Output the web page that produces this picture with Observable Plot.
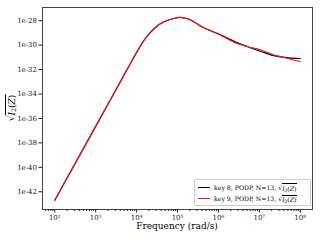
<!DOCTYPE html>
<html><head><meta charset="utf-8">
<script src="https://cdn.jsdelivr.net/npm/d3@7"></script>
<script src="https://cdn.jsdelivr.net/npm/@observablehq/plot@0.6"></script>
<style>
body{margin:0;background:#fff;}
#c{position:relative;width:320px;height:240px;font-family:"DejaVu Serif",serif;color:#000;}
#c svg{position:absolute;left:0;top:0;}
.xl{position:absolute;left:42px;width:270px;top:220px;line-height:12px;text-align:center;font-size:9px;}
.yl{position:absolute;left:11px;top:108px;font-size:9px;transform:translate(-50%,-50%) rotate(-90deg);white-space:nowrap;}
.ov{border-top:0.7px solid #000;padding-top:0.5px;}
.lg{position:absolute;left:194px;top:179px;width:117px;height:27px;border:0.8px solid #ccc;border-radius:2px;background:#fff;font-size:6.2px;box-sizing:border-box;}
.row{position:absolute;left:3px;display:flex;align-items:center;white-space:nowrap;}
.sw{display:inline-block;width:12px;height:1.3px;margin-right:4px;}
i{font-style:italic;}
sub{font-size:70%;vertical-align:-1px;line-height:0;}
</style></head><body><div id="c"></div>
<script>
const freq = [1e2, 1e3, 3.16e3, 1e4, 1.15e4, 1.51e4, 2.0e4, 2.63e4, 3.47e4, 4.57e4, 6.1e4, 8.05e4, 1.12e5, 1.51e5, 2.04e5, 2.7e5, 3.55e5, 5.66e5, 1e6, 1.6e6, 2.5e6, 5.2e6, 1.1e7, 2.3e7, 4.1e7, 6.3e7, 1e8];
const key8 = [2.0e-43, 2.24e-37, 2.35e-34, 2.5e-31, 5.6e-31, 2.4e-30, 8.1e-30, 2.1e-29, 4.7e-29, 7.9e-29, 1.15e-28, 1.51e-28, 1.86e-28, 1.66e-28, 1.2e-28, 7.1e-29, 3.9e-29, 1.8e-29, 8.1e-30, 4.0e-30, 2.0e-30, 7.4e-31, 3.0e-31, 1.35e-31, 9.8e-32, 8.6e-32, 8.1e-32];
const key9 = [2.0e-43, 2.24e-37, 2.35e-34, 2.5e-31, 5.6e-31, 2.4e-30, 8.1e-30, 2.1e-29, 4.7e-29, 7.9e-29, 1.15e-28, 1.51e-28, 1.86e-28, 1.66e-28, 1.2e-28, 7.1e-29, 3.9e-29, 1.8e-29, 8.1e-30, 3.5e-30, 1.66e-30, 7.4e-31, 4.0e-31, 1.55e-31, 9.8e-32, 6.4e-32, 4.6e-32];
const yTicks = [1e-42, 1e-40, 1e-38, 1e-36, 1e-34, 1e-32, 1e-30, 1e-28];
const xTicks = [1e2, 1e3, 1e4, 1e5, 1e6, 1e7, 1e8];
const seriesNames = ["key 8", "key 9"];
const seriesColors = ["#000000", "#e8191b"];

const sup = {"0":"⁰","1":"¹","2":"²","3":"³","4":"⁴","5":"⁵","6":"⁶","7":"⁷","8":"⁸","9":"⁹","-":"⁻"};
const fmtX = d => "10" + String(Math.round(Math.log10(d))).split("").map(c => sup[c]).join("");
const fmtY = d => "1e" + Math.round(Math.log10(d));

const xDomain = [10 ** 1.7, 10 ** 8.3];
const minor = [];
for (let k = 1; k <= 8; k++) for (let m = 2; m <= 9; m++) {
  const v = m * 10 ** k;
  if (v > xDomain[0] && v < xDomain[1]) minor.push(v);
}

const rows8 = freq.map((f, i) => ({f, v: key8[i]}));
const rows9 = freq.map((f, i) => ({f, v: key9[i]}));

const chart = Plot.plot({
  width: 320, height: 240,
  marginLeft: 42, marginRight: 8, marginTop: 7, marginBottom: 31,
  style: {fontFamily: "DejaVu Serif, serif", fontSize: "7px", color: "#222", background: "#fff"},
  x: {type: "log", domain: xDomain},
  y: {type: "log", domain: [10 ** -43.45, 10 ** -26.92]},
  marks: [
    Plot.axisX({ticks: minor, tickSize: 2, tickFormat: () => "", label: null}),
    Plot.axisX({ticks: xTicks, tickSize: 3.5, tickPadding: 2, tickFormat: fmtX, label: null, fontSize: 7}),
    Plot.axisY({ticks: yTicks, tickSize: 3.5, tickPadding: 2, tickFormat: fmtY, label: null, fontSize: 7}),
    Plot.line(rows8, {x: "f", y: "v", stroke: seriesColors[0], strokeWidth: 1.2, curve: "monotone-x"}),
    Plot.line(rows9, {x: "f", y: "v", stroke: seriesColors[1], strokeWidth: 1.2, curve: "monotone-x"}),
    Plot.frame({stroke: "#333", strokeWidth: 0.9})
  ]
});
const c = document.getElementById("c");
c.appendChild(chart);

const sq = '√<span class="ov"><i>I</i><sub>2</sub>(<i>Z</i>)</span>';
const xl = document.createElement("div"); xl.className = "xl"; xl.textContent = "Frequency (rad/s)"; c.appendChild(xl);
const yl = document.createElement("div"); yl.className = "yl"; yl.innerHTML = sq; c.appendChild(yl);
const lg = document.createElement("div"); lg.className = "lg";
lg.innerHTML = seriesNames.map((n, i) =>
  `<div class="row" style="top:${3 + i * 11.5}px"><span class="sw" style="background:${seriesColors[i]}"></span>${n}, PODP, N=13, ${sq}</div>`).join("");
c.appendChild(lg);
</script>
</body></html>
